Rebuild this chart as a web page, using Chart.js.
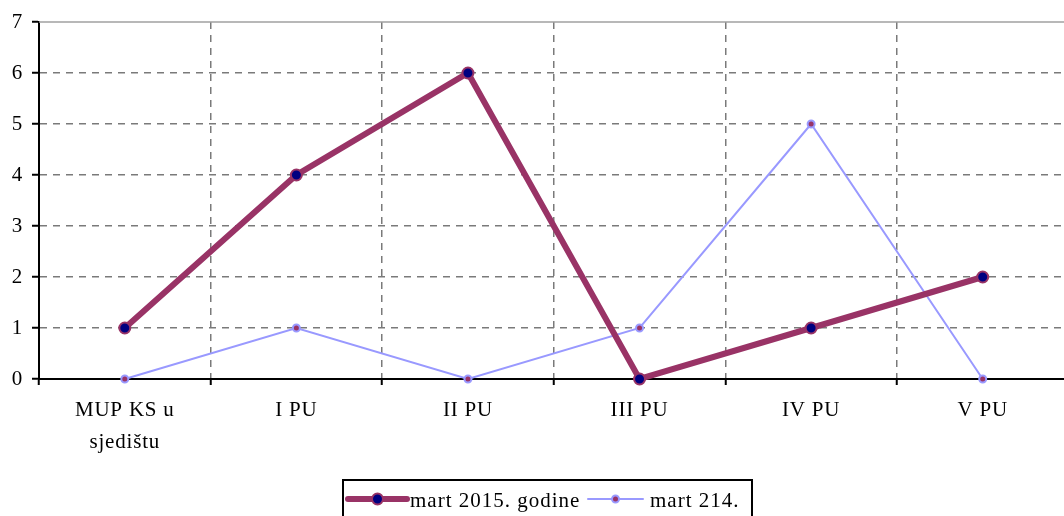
<!DOCTYPE html>
<html>
<head>
<meta charset="utf-8">
<script src="https://cdn.jsdelivr.net/npm/chart.js@4.4.0/dist/chart.umd.min.js"></script>
<style>
  html, body { margin: 0; padding: 0; background: #fff; overflow: hidden; width: 1064px; height: 516px; }
  #wrap { position: absolute; left: 0; top: 0; width: 1076px; height: 516px; }
</style>
</head>
<body>
<div id="wrap"><canvas id="c" width="1076" height="516"></canvas></div>
<script>
const categories = [['MUP KS u', 'sjedištu'], 'I PU', 'II PU', 'III PU', 'IV PU', 'V PU'];
const seriesNames = ['mart 2015. godine', 'mart 214.'];
const mart2015 = [1, 4, 6, 0, 1, 2];
const mart2014 = [0, 1, 0, 1, 5, 0];
const yTicks = [0, 1, 2, 3, 4, 5, 6, 7];

const FONT = 'Liberation Serif, "Times New Roman", serif';
const C1 = '#993366';
const C2 = '#9999FF';

const spacing = {
  id: 'spacing',
  beforeDraw(chart) { chart.ctx.letterSpacing = '0.8px'; }
};

const frame = {
  id: 'frame',
  afterDraw(chart) {
    const ctx = chart.ctx;
    const a = chart.chartArea;
    ctx.save();
    ctx.strokeStyle = '#a0a0a0';
    ctx.lineWidth = 1.5;
    ctx.beginPath();
    ctx.moveTo(a.left, a.top);
    ctx.lineTo(a.right, a.top);
    ctx.stroke();

    const ds = chart.data.datasets;
    const bx = 343, by = 480, bw = 409, bh = 60;
    ctx.strokeStyle = '#000';
    ctx.lineWidth = 2;
    ctx.strokeRect(bx, by, bw, bh);
    const cy = 499;
    const items = [
      { x0: 348, x1: 407, tx: 410 },
      { x0: 588, x1: 643, tx: 650 }
    ];
    ctx.font = '21px ' + FONT;
    ctx.letterSpacing = '1px';
    ctx.textBaseline = 'middle';
    items.forEach((it, i) => {
      const d = ds[i];
      ctx.strokeStyle = d.borderColor;
      ctx.lineWidth = d.borderWidth;
      ctx.lineCap = 'round';
      ctx.beginPath();
      ctx.moveTo(it.x0, cy);
      ctx.lineTo(it.x1, cy);
      ctx.stroke();
      const mx = (it.x0 + it.x1) / 2;
      ctx.beginPath();
      ctx.arc(mx, cy, d.pointRadius, 0, Math.PI * 2);
      ctx.fillStyle = d.pointBackgroundColor;
      ctx.fill();
      ctx.lineWidth = d.pointBorderWidth;
      ctx.strokeStyle = d.pointBorderColor;
      ctx.stroke();
      ctx.fillStyle = '#000';
      ctx.fillText(d.label, it.tx, cy + 2);
    });
    ctx.restore();
  }
};

const gridGray = '#7a7a7a';

new Chart(document.getElementById('c'), {
  type: 'line',
  data: {
    labels: categories,
    datasets: [
      {
        label: seriesNames[0],
        data: mart2015,
        borderColor: C1,
        borderWidth: 6,
        pointRadius: 5.5,
        pointHoverRadius: 5.5,
        pointBackgroundColor: '#000080',
        pointBorderColor: C1,
        pointBorderWidth: 2,
        tension: 0,
        clip: false
      },
      {
        label: seriesNames[1],
        data: mart2014,
        borderColor: C2,
        borderWidth: 2,
        pointRadius: 3.5,
        pointHoverRadius: 3.5,
        pointBackgroundColor: C1,
        pointBorderColor: C2,
        pointBorderWidth: 2,
        tension: 0,
        clip: false
      }
    ]
  },
  options: {
    responsive: false,
    animation: false,
    devicePixelRatio: 1,
    layout: { padding: { top: 22, right: 1, left: 0, bottom: 0 } },
    plugins: { legend: { display: false }, tooltip: { enabled: false } },
    scales: {
      x: {
        type: 'category',
        offset: true,
        afterFit(s) { s.height = 137; },
        grid: {
          offset: true,
          color: (c) => (c.index === 0 ? 'rgba(0,0,0,0)' : gridGray),
          lineWidth: 1.5,
          drawTicks: true,
          tickLength: 6,
          tickColor: '#000',
          tickWidth: 2,
          tickBorderDash: []
        },
        border: { display: true, color: '#000', width: 2, dash: [7, 6] },
        ticks: {
          color: '#000',
          font: { family: FONT, size: 21, lineHeight: 1.5 },
          padding: 10,
          maxRotation: 0,
          autoSkip: false
        }
      },
      y: {
        min: 0,
        max: 7,
        afterFit(s) { s.width = 39; },
        afterBuildTicks(s) { s.ticks = yTicks.map(v => ({ value: v })); },
        grid: {
          color: (c) => (c.tick && (c.tick.value === 0 || c.tick.value === 7) ? 'rgba(0,0,0,0)' : gridGray),
          lineWidth: 1.5,
          tickLength: 7,
          tickColor: '#000',
          tickWidth: 2,
          tickBorderDash: []
        },
        border: { display: true, color: '#000', width: 2, dash: [7, 6] },
        ticks: {
          color: '#000',
          font: { family: FONT, size: 21 },
          padding: 9,
          stepSize: 1
        }
      }
    }
  },
  plugins: [spacing, frame]
});
</script>
</body>
</html>
